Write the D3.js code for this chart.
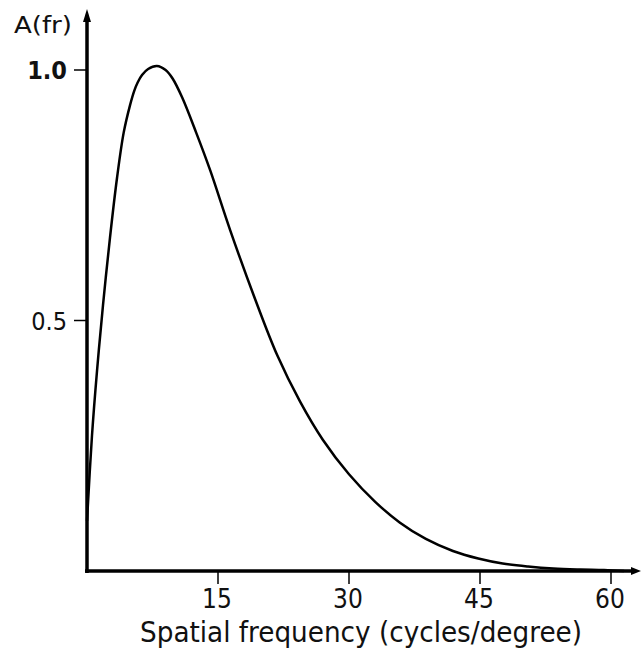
<!DOCTYPE html>
<html>
<head>
<meta charset="utf-8">
<script src="https://cdn.jsdelivr.net/npm/d3@7"></script>
<style>
    body { margin: 0; background: #fff; }
    text { font-family: "DejaVu Sans Condensed", "DejaVu Sans", sans-serif; fill: #111; }
</style>
</head>
<body>
<div id="chart"></div>
<script>
/* Spatial frequency response curve */

// spatial frequency (cycles/degree)
const freq = [0, 0.57, 1.15, 1.83, 2.63, 3.44, 4.2, 4.93, 5.4, 5.8, 6.3, 7.0, 8.0, 9.0, 9.8, 10.9, 12.5, 14.1, 16.4, 19.2, 21.8, 24.4, 27.0, 30.0, 33.0, 35.8, 38.8, 41.9, 44.8, 47.6, 50.5, 53.4, 56.5, 59.2, 61.5];
// amplitude A(fr)
const amplitude = [0.10, 0.27, 0.40, 0.53, 0.665, 0.785, 0.875, 0.93, 0.958, 0.975, 0.99, 1.002, 1.008, 1.0, 0.983, 0.945, 0.875, 0.80, 0.68, 0.545, 0.43, 0.338, 0.262, 0.193, 0.138, 0.097, 0.064, 0.040, 0.025, 0.015, 0.009, 0.005, 0.003, 0.002, 0.0];

const xTicks = [15, 30, 45, 60];
const yTicks = [0.5, 1.0];

function createChart(containerId) {

    const container = d3.select(`#${containerId}`);
    const W = 641, H = 654;
    const margin = { top: 70, right: 30, bottom: 83, left: 87 };

    container.selectAll("*").remove();

    const svg = container.append("svg")
        .attr("width", W)
        .attr("height", H)
        .attr("viewBox", `0 0 ${W} ${H}`);

    const x = d3.scaleLinear()
        .domain([0, 60])
        .range([margin.left, W - margin.right]);

    const y = d3.scaleLinear()
        .domain([0, 1])
        .range([H - margin.bottom, margin.top]);

    const y0 = y(0);
    const x0 = x(0);

    // AXES LINES
    svg.append("line")
        .attr("x1", x0).attr("x2", x0)
        .attr("y1", y0 + 2).attr("y2", 20)
        .attr("stroke", "#000").attr("stroke-width", 3.5);

    svg.append("line")
        .attr("x1", x0 - 2).attr("x2", W - 6)
        .attr("y1", y0).attr("y2", y0)
        .attr("stroke", "#000").attr("stroke-width", 3.5);

    // arrow heads
    svg.append("path")
        .attr("d", `M${x0 - 4},22 L${x0},9 L${x0 + 4},22 Z`)
        .attr("fill", "#000");

    svg.append("path")
        .attr("d", `M${W - 10},${y0 - 4} L${W},${y0} L${W - 10},${y0 + 4} Z`)
        .attr("fill", "#000");

    // Y TICKS
    const yAxis = svg.append("g");
    yAxis.selectAll(".ytick")
        .data(yTicks)
        .enter()
        .append("line")
        .attr("x1", x0 - 13).attr("x2", x0)
        .attr("y1", d => y(d)).attr("y2", d => y(d))
        .attr("stroke", "#000").attr("stroke-width", 1.5);

    yAxis.selectAll(".ylabel")
        .data(yTicks)
        .enter()
        .append("text")
        .attr("x", x0 - 20)
        .attr("y", d => y(d) + 9)
        .attr("text-anchor", "end")
        .attr("font-size", "25px")
        .attr("font-weight", d => d === 1 ? "bold" : "normal")
        .text(d => d.toFixed(1));

    // X TICKS
    const xAxis = svg.append("g");
    xAxis.selectAll(".xtick")
        .data(xTicks)
        .enter()
        .append("line")
        .attr("x1", d => x(d)).attr("x2", d => x(d))
        .attr("y1", y0).attr("y2", y0 + 13)
        .attr("stroke", "#000").attr("stroke-width", 1.5);

    xAxis.selectAll(".xlabel")
        .data(xTicks)
        .enter()
        .append("text")
        .attr("x", d => x(d) - 1)
        .attr("y", y0 + 37)
        .attr("text-anchor", "middle")
        .attr("font-size", "26px")
        .text(d => d);

    // AXIS TITLES
    svg.append("text")
        .attr("x", 140)
        .attr("y", y0 + 71)
        .attr("font-size", "29px")
        .attr("textLength", 442)
        .attr("lengthAdjust", "spacingAndGlyphs")
        .text("Spatial frequency (cycles/degree)");

    svg.append("text")
        .attr("x", 14)
        .attr("y", 33)
        .attr("font-size", "23px")
        .attr("textLength", 58)
        .attr("lengthAdjust", "spacingAndGlyphs")
        .text("A(fr)");

    // CURVE
    const pts = freq.map((f, i) => [f, amplitude[i]]);
    const line = d3.line()
        .x(d => x(d[0]))
        .y(d => y(d[1]))
        .curve(d3.curveCatmullRom.alpha(0.5));

    svg.append("path")
        .datum(pts)
        .attr("d", line)
        .attr("fill", "none")
        .attr("stroke", "#000")
        .attr("stroke-width", 2.5)
        .attr("stroke-linejoin", "round");
}

createChart("chart");
</script>
</body>
</html>
